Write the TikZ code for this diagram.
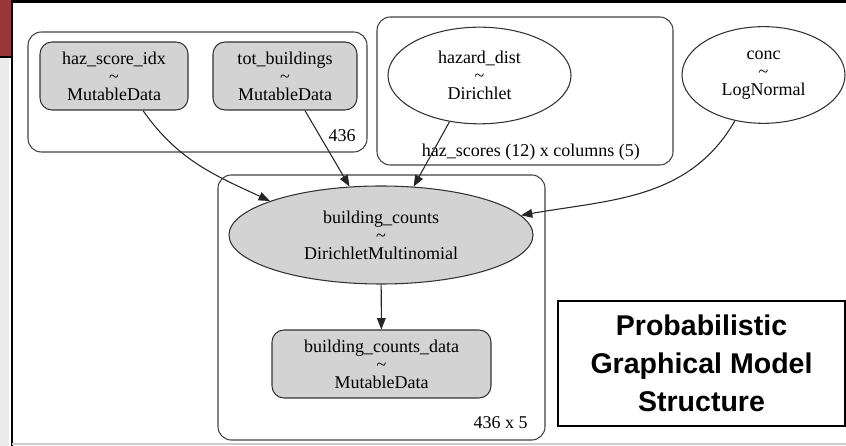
\documentclass[tikz,border=0pt]{standalone}
\usepackage{fontspec}
\setmainfont{Liberation Serif}
\newfontfamily\boxfont{Liberation Sans}
\usetikzlibrary{shapes.geometric,arrows.meta}
\definecolor{slidered}{HTML}{993838}
\definecolor{nodegray}{HTML}{D3D3D3}

\begin{document}
\begin{tikzpicture}[x=0.75pt, y=0.75pt,
		every node/.style={font=\fontsize{13.5}{13.5}\selectfont, inner sep=0pt, align=center},
		datanode/.style={draw=black!80, fill=nodegray, rectangle, rounded corners=9pt, minimum height=51pt, line width=0.8pt},
		rvnode/.style={draw=black!80, ellipse, minimum height=72.5pt, line width=0.8pt},
		plate/.style={draw=black!75, rounded corners=10pt, line width=0.8pt},
		edge/.style={-{Triangle[length=8.5pt,width=6.5pt]}, line width=0.8pt, black!85}]
		\useasboundingbox (0,0) rectangle (846,446);
		
		% 页面边框
		\fill[slidered] (0,389) rectangle (11,446);
		\fill[black!8] (0,0) rectangle (9,388);
		\draw[line width=0.8pt] (0,389) -- (12,389);
		\draw[line width=1.5pt] (12,0) -- (12,446);
		\draw[line width=2.2pt] (12,444.5) -- (846,444.5);
		\draw[black!20, line width=1pt] (12,2) -- (846,2);
		
		% 板块
		\draw[plate] (28,294) rectangle (367,414);
		\draw[plate] (377,281) rectangle (673,429);
		\draw[plate] (218,6) rectangle (545,271);
		\node[anchor=east] (lblobs) at (356,310) {436};
		\node[anchor=east] (lblhaz) at (640,294) {haz\_scores (12) x columns (5)};
		\node[anchor=east] (lblcnt) at (528,23) {436 x 5};
		
		% 变量节点
		\node[datanode, minimum width=111pt] (hsi) at (114,370) {haz\_score\_idx\\\textasciitilde\\MutableData};
		\node[datanode, minimum width=108pt] (tb) at (285,370) {tot\_buildings\\\textasciitilde\\MutableData};
		\node[rvnode, minimum width=137.25pt] (hd) at (479.5,370.5) {hazard\_dist\\\textasciitilde\\Dirichlet};
		\node[rvnode, minimum width=122.25pt] (conc) at (763.5,371) {conc\\\textasciitilde\\LogNormal};
		\node[rvnode, fill=nodegray, minimum width=228pt, minimum height=73.5pt] (bc) at (381,211) {building\_counts\\\textasciitilde\\DirichletMultinomial};
		\node[datanode, minimum width=164.25pt] (bcd) at (381.5,82) {building\_counts\_data\\\textasciitilde\\MutableData};
		
		% 连线
		\draw[edge] (hsi.-50) to[out=-55, in=155] (bc.163);
		\draw[edge] (tb.-60) -- (bc.123);
		\draw[edge] (hd.237) -- (bc.56);
		\draw[edge] (conc.238) to[out=-120, in=10] (bc.8);
		\draw[edge] (bc) -- (bcd);
		
		% 标题框
		\node[draw, line width=1.5pt, minimum width=215.25pt, minimum height=93.75pt,
			font=\boxfont\bfseries\fontsize{21.4}{28.5}\selectfont] (title) at (701.5,82.5) {Probabilistic\\Graphical Model\\Structure};
	\end{tikzpicture}
\end{document}
